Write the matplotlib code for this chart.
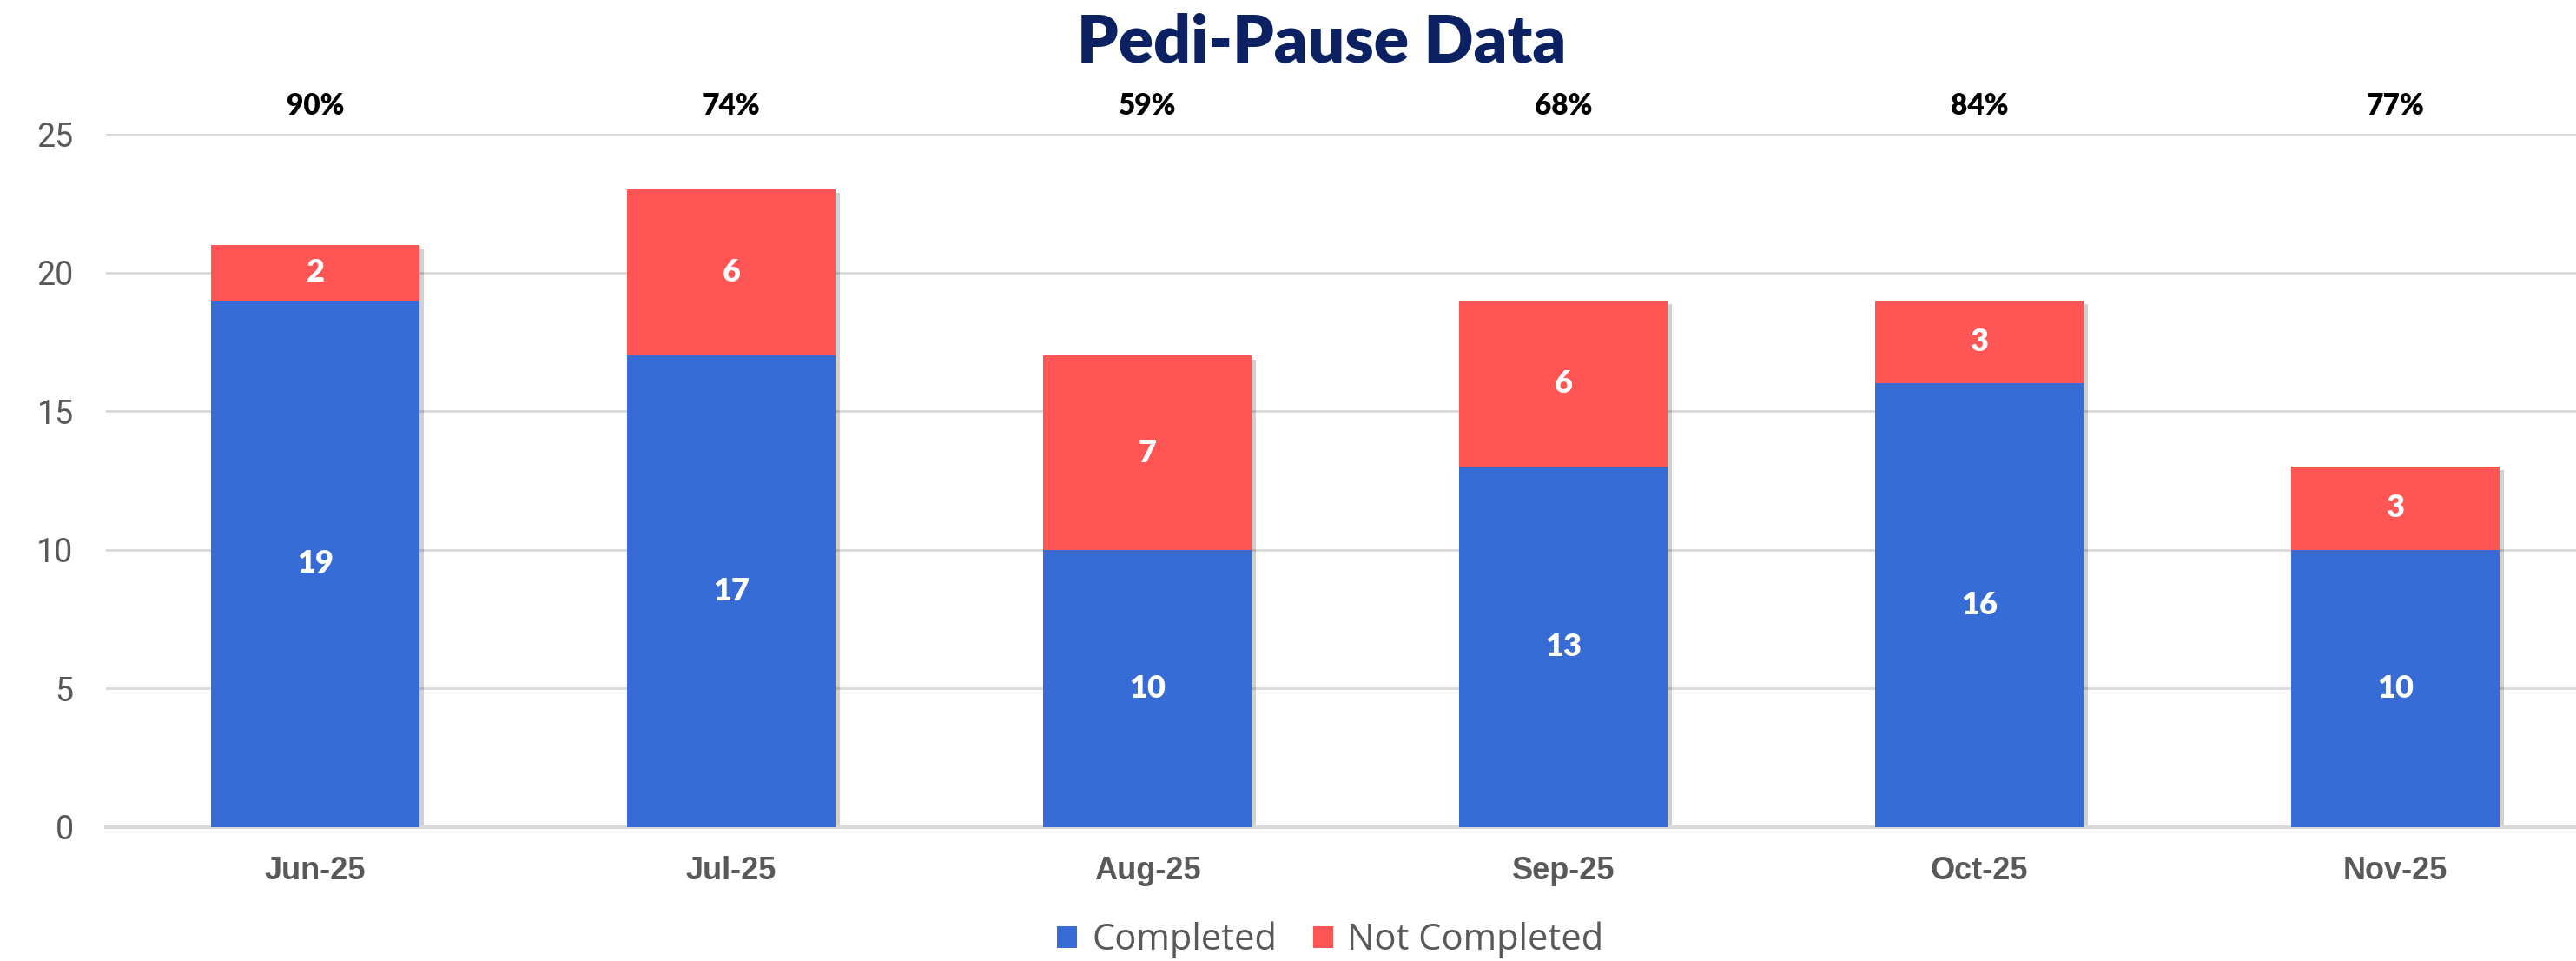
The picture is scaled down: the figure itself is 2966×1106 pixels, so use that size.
import matplotlib
matplotlib.use("Agg")
import matplotlib.pyplot as plt
import matplotlib.patheffects as pe
import numpy as np

months = ["Jun-25", "Jul-25", "Aug-25", "Sep-25", "Oct-25", "Nov-25"]
completed = [19, 17, 10, 13, 16, 10]
not_completed = [2, 6, 7, 6, 3, 3]
pct_labels = ["90%", "74%", "59%", "68%", "84%", "77%"]
yticks = [0, 5, 10, 15, 20, 25]

BLUE = "#376CD6"
RED = "#FF5555"
GREY = "#595959"

W, H = 2966, 1106
fig = plt.figure(figsize=(W / 100, H / 100), dpi=100)
ax = fig.add_axes([122 / W, (H - 952) / H, 1 - 122 / W, (952 - 154) / H])

x = np.arange(len(months))
totals = [c + n for c, n in zip(completed, not_completed)]
shadow = [pe.SimplePatchShadow(offset=(4, -3), shadow_rgbFace="#000000", alpha=0.18), pe.Normal()]
sb = ax.bar(x, totals, width=0.5, color="white", zorder=2)
for p in sb:
    p.set_path_effects(shadow)
b1 = ax.bar(x, completed, width=0.5, color=BLUE, label="Completed", zorder=3)
b2 = ax.bar(x, not_completed, width=0.5, bottom=completed, color=RED, label="Not Completed", zorder=3)

for i in range(len(months)):
    ax.text(x[i], completed[i] / 2, str(completed[i]), ha="center", va="center",
            color="white", fontsize=26, fontweight="heavy", family="Lato", zorder=4)
    ax.text(x[i], completed[i] + not_completed[i] / 2, str(not_completed[i]), ha="center",
            va="center", color="white", fontsize=26, fontweight="heavy", family="Lato", zorder=4)
    ax.text(x[i], 26.0, pct_labels[i], ha="center", va="center", color="black",
            fontsize=24, fontweight="heavy", family="Lato", clip_on=False)

ax.set_xlim(-0.503, (W - 363) / 479)
ax.set_ylim(0, 25)
ax.set_yticks(yticks)
ax.set_xticks(x)
ax.set_xticklabels(months, fontsize=26, fontweight="bold", color=GREY, family="Liberation Sans")
ax.set_yticklabels([str(v) for v in yticks], fontsize=27, color=GREY, family="Roboto")
ax.tick_params(axis="both", length=0)
ax.tick_params(axis="x", pad=24)
ax.tick_params(axis="y", pad=27)
ax.grid(axis="y", color="#D9D9D9", linewidth=2, zorder=0)
ax.set_axisbelow(True)
for s in ["top", "right", "left"]:
    ax.spines[s].set_visible(False)
ax.spines["bottom"].set_color("#D9D9D9")
ax.spines["bottom"].set_linewidth(3)

fig.text(1522 / W, 1 - 50 / H, "Pedi-Pause Data", ha="center", va="center",
         fontsize=54, fontweight="heavy", color="#0B2161", family="Lato")

leg = fig.legend(handles=[b1, b2], labels=["Completed", "Not Completed"], loc="center",
                 bbox_to_anchor=(1532 / W, 1 - 1082 / H), ncol=2, frameon=False,
                 prop={"family": "Open Sans", "size": 30}, handlelength=0.55, handleheight=0.55,
                 columnspacing=1.0, handletextpad=0.4)
for t in leg.get_texts():
    t.set_color(GREY)

fig.savefig("out.png", dpi=100, facecolor="white")
